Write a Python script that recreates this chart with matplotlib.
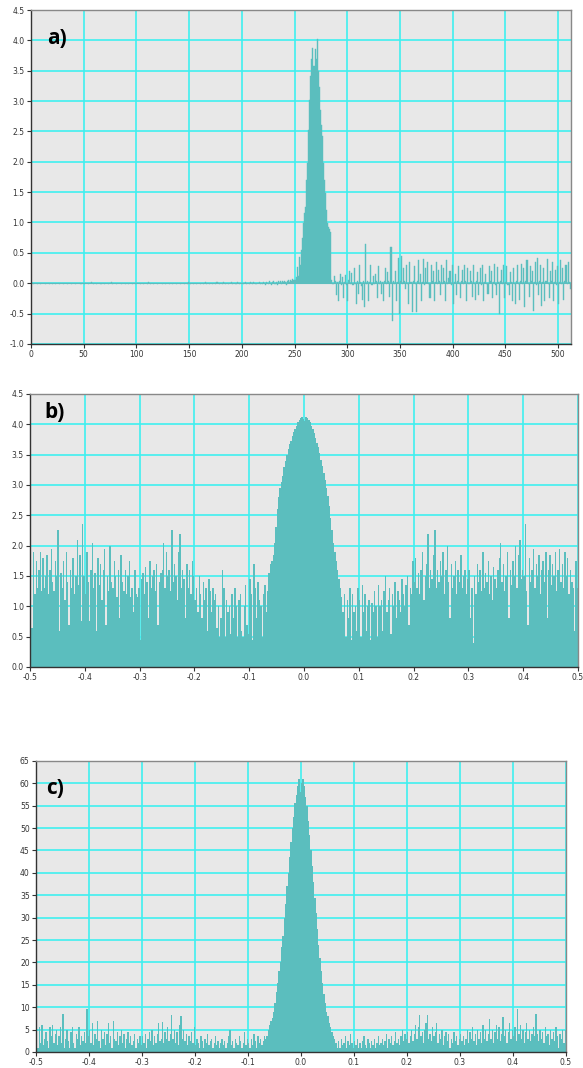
import numpy as np
import matplotlib
matplotlib.use("Agg")
from matplotlib import pyplot as plt

# ---- panel a: time signal, 512 samples ----
a_quiet = [
    0.0, 0.01, -0.01, 0.0, 0.01, 0.0, -0.01, 0.01, 0.0, -0.01, 0.0, 0.01, 0.0, -0.01, 0.01, 0.0, 0.0, -0.01, 0.01, 0.0,
    -0.01, 0.0, 0.01, -0.02, 0.0, 0.01, 0.0, -0.01, 0.0, 0.01, -0.01, 0.0, 0.01, 0.0, -0.01, 0.0, 0.01, 0.0, -0.01, 0.0,
    0.01, 0.0, -0.01, 0.0, 0.01, 0.0, 0.0, -0.01, 0.01, 0.0, -0.02, 0.0, 0.01, 0.0, -0.01, 0.01, 0.0, 0.02, 0.0, -0.01,
    0.0, 0.01, -0.01, 0.0, 0.01, 0.0, -0.01, 0.0, 0.01, -0.01, 0.0, 0.01, 0.0, -0.01, 0.0, 0.01, 0.02, -0.01, 0.0, 0.01,
    0.0, -0.01, 0.0, 0.01, 0.0, -0.01, 0.01, 0.0, 0.0, -0.01, 0.01, 0.0, -0.01, 0.0, 0.01, 0.0, -0.01, 0.01, 0.0, -0.01,
    0.0, 0.01, 0.0, -0.01, 0.01, 0.0, -0.01, 0.0, 0.01, 0.0, -0.01, 0.02, 0.0, -0.01, 0.01, 0.0, -0.01, 0.0, 0.01, 0.0,
    -0.01, 0.0, 0.01, 0.0, -0.01, 0.01, 0.0, -0.01, 0.0, 0.01, 0.0, -0.02, 0.01, 0.0, -0.01, 0.0, 0.01, 0.0, -0.01, 0.01,
    0.0, -0.01, 0.0, 0.01, 0.0, -0.01, 0.01, 0.0, -0.01, 0.02, 0.0, -0.01, 0.01, 0.0, -0.01, 0.0, 0.01, -0.01, 0.0, 0.01,
    -0.01, 0.0, 0.01, -0.01, 0.0, 0.02, -0.01, 0.0, 0.01, -0.01, 0.0, 0.01, -0.02, 0.0, 0.01, -0.01, 0.02, 0.0, -0.01, 0.01,
    0.0, -0.01, 0.02, 0.0, -0.01, 0.01, 0.0, -0.02, 0.01, 0.0, 0.02, -0.01, 0.0, 0.01, -0.01, 0.02, 0.0, -0.01, 0.01, 0.0,
    0.01, -0.02, 0.0, 0.02, -0.01, 0.01, 0.0, -0.02, 0.02, 0.0, -0.01, 0.02, 0.0, -0.02, 0.01, 0.0, 0.02, -0.01, 0.01, -0.02,
    0.02, 0.0, -0.03, 0.02, 0.01, -0.02, 0.03, 0.0, -0.03, 0.02, 0.04, -0.01, 0.02, -0.03, 0.03, 0.01, 0.04, -0.02, 0.03, 0.02,
]
a_peak = [
    0.03, 0.02, -0.03, 0.04, 0.05, 0.02, 0.06, 0.03, 0.07, 0.05, 0.06, 0.1, 0.27, 0.12, 0.43,
    0.3, 0.55, 0.75, 0.99, 1.15, 1.26, 1.7, 1.98, 2.53, 3.02, 3.41, 3.7, 3.88, 3.58, 3.85,
    3.7, 4.02, 3.5, 3.24, 2.86, 2.6, 2.42, 1.98, 1.7, 1.48, 1.2, 0.99, 0.93, 0.9, 0.85,
]
a_tail = [
    0.05, -0.02, 0.12, 0.03, -0.2, 0.02, -0.3, 0.04, 0.15, -0.03, 0.1, -0.25, 0.02, 0.14, -0.03, -0.3, 0.05, 0.2, -0.02, 0.16,
    -0.03, 0.25, -0.02, -0.35, 0.04, -0.18, 0.3, 0.02, -0.04, -0.28, 0.03, -0.4, 0.65, -0.02, 0.04, -0.3, 0.02, 0.3, -0.03, 0.12,
    -0.02, 0.15, 0.03, -0.25, 0.28, -0.02, 0.04, -0.18, 0.02, -0.3, 0.03, 0.25, -0.02, 0.18, 0.03, -0.22, 0.6, -0.62, 0.03, -0.02,
    0.2, -0.3, 0.02, 0.42, -0.5, 0.03, 0.45, -0.02, 0.25, 0.03, -0.1, 0.3, -0.02, -0.35, 0.35, 0.02, -0.48, 0.04, 0.28, -0.02,
    -0.48, 0.03, 0.38, -0.02, 0.15, -0.3, 0.02, 0.4, -0.03, 0.25, 0.02, 0.35, -0.02, -0.25, 0.3, 0.03, 0.2, -0.3, 0.02, 0.35,
    -0.02, 0.22, 0.03, -0.2, 0.3, -0.02, 0.25, 0.03, -0.3, 0.38, -0.02, 0.08, 0.2, -0.03, 0.3, -0.35, 0.02, 0.15, -0.2, 0.03,
    0.28, -0.02, -0.25, 0.03, 0.22, -0.02, 0.3, 0.03, -0.3, 0.25, -0.02, 0.2, 0.03, -0.22, 0.3, -0.02, -0.28, 0.03, 0.18, -0.2,
    0.02, 0.25, -0.03, 0.3, -0.3, 0.02, 0.15, -0.02, -0.18, 0.28, 0.03, 0.2, -0.25, 0.02, 0.32, -0.03, -0.2, 0.26, 0.02, -0.5,
    0.03, 0.22, -0.02, 0.3, -0.25, 0.02, 0.28, -0.03, -0.2, 0.18, 0.02, -0.3, 0.25, -0.02, -0.35, 0.03, 0.3, -0.02, -0.28, 0.03,
    0.32, -0.02, 0.25, -0.4, 0.03, 0.38, -0.02, -0.22, 0.28, 0.03, 0.2, -0.45, 0.02, 0.35, -0.03, 0.42, -0.2, 0.03, 0.3, -0.38,
    0.02, 0.25, -0.3, 0.03, 0.4, -0.02, -0.25, 0.2, 0.03, 0.35, -0.3, 0.02, 0.22, -0.03, 0.28, -0.35, 0.02, 0.38, -0.02, 0.25,
    -0.28, 0.03, 0.3, -0.02, 0.35, 0.02, -0.1,
]

# ---- panel b: spectrum, -0.5..0.5 ----
b_left = [
    1.7, 0.65, 1.9, 1.2, 1.75, 1.3, 1.6, 1.9, 1.25, 1.8, 1.3, 1.5, 1.85, 1.2, 1.6, 1.95, 1.4, 1.25, 1.75, 1.5,
    2.25, 0.6, 1.55, 1.3, 1.75, 1.1, 1.9, 1.4, 0.7, 1.6, 1.3, 1.8, 1.2, 1.5, 2.1, 1.35, 1.85, 0.75, 2.35, 1.5,
    1.2, 1.9, 1.4, 0.75, 1.6, 2.05, 1.3, 1.55, 0.6, 1.8, 1.35, 1.7, 1.1, 1.6, 1.95, 0.7, 1.5, 1.25, 2.0, 1.4,
    1.3, 1.75, 1.5, 1.15, 1.6, 0.8, 1.85, 1.4, 1.25, 1.6, 1.2, 1.5, 1.75, 1.15, 1.3, 0.9, 1.6, 1.2, 1.15, 1.3,
    0.45, 1.45, 1.55, 1.2, 1.65, 1.4, 0.8, 1.75, 1.3, 1.5, 1.6, 1.25, 1.7, 0.7, 1.4, 1.55, 1.6, 2.05, 1.3, 1.9,
    1.5, 1.6, 1.25, 2.25, 1.4, 1.7, 1.5, 1.1, 1.9, 2.2, 1.3, 1.6, 1.45, 0.8, 1.7, 1.3, 1.6, 1.2, 1.75, 1.5,
    1.1, 1.3, 0.9, 1.5, 1.2, 0.8, 1.4, 1.1, 1.3, 0.6, 1.45, 1.25, 0.9, 1.3, 1.1, 1.2, 0.65, 1.0, 0.5, 0.8,
    1.6, 1.3, 0.5, 1.1, 0.9, 1.0, 0.55, 1.2, 0.8, 1.3, 1.0, 0.5, 1.1, 1.2, 0.6, 0.5, 1.0, 1.35, 0.7, 0.55,
    1.45, 1.2, 0.45, 1.7, 1.3, 0.8, 1.4, 1.1, 1.0, 0.5, 1.2, 1.35, 0.9, 1.25,
]
b_peak = [
    1.55, 1.7, 1.75, 1.85, 2.05, 2.3, 2.6, 2.8, 2.95, 3.05, 3.15, 3.3, 3.4,
    3.5, 3.6, 3.67, 3.73, 3.8, 3.87, 3.93, 3.98, 4.03, 4.07, 4.11, 4.12, 4.08,
    4.06, 4.12, 4.11, 4.07, 4.03, 3.98, 3.92, 3.86, 3.78, 3.7, 3.62, 3.52, 3.42,
    3.32, 3.2, 3.08, 2.95, 2.82, 2.65, 2.45, 2.25, 2.05, 1.9, 1.75, 1.6, 1.45,
]
b_right = [
    1.3, 1.15, 0.9, 1.2, 0.5, 1.1, 0.8, 1.3, 0.45, 1.2, 0.9, 1.0, 0.6, 1.3,
    1.1, 0.5, 1.35, 0.9, 1.2, 0.6, 1.0, 1.1, 0.45, 1.05, 0.9, 1.25, 1.0, 0.5, 1.35, 1.0, 1.1, 0.6, 1.25, 1.5,
    0.9, 1.1, 1.3, 0.55, 1.2, 1.0, 1.4, 0.8, 1.25, 1.1, 0.9, 1.45, 1.2, 1.0, 1.35, 1.5, 0.7, 1.3, 1.2, 1.75,
    1.4, 1.8, 1.3, 1.55, 1.2, 1.6, 1.9, 1.1, 1.5, 1.7, 2.2, 1.3, 1.6, 1.45, 1.85, 2.25, 1.3, 1.6, 1.4, 1.75,
    1.5, 1.9, 1.2, 1.6, 2.0, 1.4, 0.8, 1.7, 1.3, 1.5, 1.75, 1.2, 1.6, 1.4, 1.85, 1.3, 1.5, 1.6, 1.2, 1.45,
    1.6, 0.8, 1.3, 0.4, 1.5, 1.2, 1.7, 1.4, 1.6, 1.25, 1.9, 1.3, 1.55, 1.4, 1.75, 1.2, 1.5, 1.1, 1.65, 1.45,
    1.3, 1.6, 1.8, 2.05, 1.4, 1.7, 1.25, 1.5, 1.9, 0.8, 1.6, 1.35, 1.75, 1.5, 2.0, 1.3, 1.85, 2.1, 1.45, 1.6,
    1.5, 2.35, 1.25, 0.7, 1.8, 1.4, 1.6, 1.95, 1.3, 1.7, 1.5, 1.85, 1.2, 1.6, 1.75, 1.4, 1.9, 0.8, 1.6, 1.85,
    1.35, 1.7, 1.5, 1.9, 1.25, 1.6, 1.95, 1.4, 1.7, 1.3, 1.9, 1.5, 1.8, 1.2, 1.6, 1.4, 1.3, 0.6, 1.75, 1.3,
]

# ---- panel c: spectrum, -0.5..0.5 ----
c_left = [
    2.5, 1.0, 5.5, 2.0, 6.0, 1.5, 3.0, 4.5, 2.5, 0.8, 5.5, 3.5, 6.0, 2.0, 4.0, 5.0, 1.5, 3.5, 5.5, 2.0,
    8.5, 1.0, 3.0, 5.0, 2.5, 1.0, 4.5, 5.5, 2.0, 0.8, 4.0, 3.0, 5.5, 1.5, 3.5, 2.5, 4.5, 2.0, 9.5, 3.5,
    5.0, 2.0, 6.5, 1.5, 4.0, 3.0, 7.0, 2.5, 0.8, 5.0, 3.0, 4.5, 1.5, 4.0, 6.5, 2.0, 3.5, 1.0, 7.0, 3.0,
    2.5, 4.5, 1.5, 3.5, 5.0, 2.0, 4.0, 1.0, 3.0, 4.5, 2.0, 3.5, 1.5, 2.5, 4.0, 0.8, 3.0, 2.0, 3.5, 1.5,
    3.5, 2.0, 4.0, 1.0, 3.0, 4.5, 2.5, 5.0, 1.5, 3.5, 2.0, 4.0, 6.5, 2.5, 3.0, 6.8, 2.0, 4.5, 3.0, 5.5,
    2.5, 4.0, 8.3, 3.0, 5.0, 2.0, 4.5, 1.5, 6.0, 8.0, 3.0, 5.0, 2.5, 4.0, 1.5, 3.5, 2.5, 4.5, 2.0, 5.5,
    1.5, 3.0, 2.0, 1.0, 3.5, 2.5, 0.8, 3.0, 2.0, 4.0, 1.5, 2.5, 3.0, 1.0, 2.0, 3.5, 1.5, 2.5, 0.8, 2.0,
    3.0, 1.5, 2.5, 1.0, 2.0, 3.5, 4.8, 1.5, 2.5, 1.0, 3.0, 2.0, 1.5, 3.5, 2.5, 1.0, 2.0, 4.5, 1.5, 3.0,
    2.0, 1.0, 3.0, 1.5, 4.0, 2.5, 1.0, 3.5, 2.0, 3.0, 1.5, 2.5, 3.5, 3.0,
]
c_peak = [
    3.5, 5.0, 6.0, 7.0, 7.5, 9.0, 11.0, 13.5, 15.5, 18.0, 20.0, 23.5, 26.0,
    30.0, 33.0, 37.0, 40.0, 43.5, 47.0, 50.0, 52.5, 55.5, 57.5, 59.5, 61.0, 58.0,
    60.0, 61.0, 59.5, 57.0, 55.0, 51.5, 48.5, 45.0, 41.5, 38.0, 34.5, 31.0, 27.5,
    24.0, 21.0, 18.0, 15.5, 13.0, 11.0, 9.0, 8.0, 6.5, 5.5, 4.5, 3.5, 3.0,
]
c_right = [
    2.0, 1.0, 2.5, 0.8, 3.0, 1.5, 2.0, 3.5, 1.0, 2.5, 1.5, 4.0, 2.0, 1.0,
    2.5, 1.5, 3.0, 0.8, 2.0, 1.0, 2.5, 3.5, 1.5, 1.0, 3.0, 2.0, 0.8, 2.5, 1.5, 3.0, 1.0, 2.0, 3.5, 1.5,
    2.0, 3.0, 1.5, 2.5, 4.0, 1.0, 3.0, 2.0, 3.5, 1.5, 2.5, 4.5, 2.0, 3.0, 1.5, 3.5, 5.0, 2.5, 4.0, 3.0,
    4.5, 2.0, 3.5, 5.0, 2.5, 4.0, 6.0, 3.0, 5.5, 8.3, 3.5, 4.5, 2.0, 5.0, 6.5, 8.3, 3.0, 4.0, 2.5, 5.5,
    3.5, 4.5, 6.5, 2.0, 4.0, 3.0, 5.0, 1.5, 3.5, 4.5, 2.5, 4.0, 1.0, 3.0, 2.0, 4.5, 2.5, 3.5, 1.5, 3.0,
    4.0, 2.5, 3.5, 1.5, 3.0, 5.0, 2.0, 4.5, 3.0, 5.5, 2.5, 4.0, 1.5, 5.0, 3.0, 4.5, 2.0, 6.0, 3.0, 5.0,
    2.5, 4.0, 7.3, 3.0, 5.0, 2.0, 4.5, 6.0, 3.0, 5.5, 2.5, 4.0, 7.8, 3.5, 5.0, 2.0, 4.5, 6.5, 3.0, 5.0,
    3.5, 5.5, 2.5, 9.5, 4.0, 6.0, 3.0, 5.0, 2.0, 4.5, 6.5, 3.0, 5.0, 2.5, 4.0, 5.5, 3.5, 8.5, 4.0, 2.5,
    5.0, 3.0, 4.5, 2.0, 5.5, 3.5, 4.0, 1.5, 5.0, 3.0, 4.5, 2.5, 5.5, 3.5, 1.0, 4.0, 3.0, 5.0, 2.0, 5.0,
]

a_vals = np.array(a_quiet + a_peak + a_tail)
b_vals = np.array(b_left + b_peak + b_right)
c_vals = np.array(c_left + c_peak + c_right)

bar_col = '#5bbebe'
grid_col = '#3ff0f0'
bg_col = '#e8e8e8'


def style(ax, xticks, yticks, xfmt, yfmt):
    ax.set_facecolor(bg_col)
    ax.set_xticks(xticks)
    ax.set_yticks(yticks)
    ax.set_xticklabels([xfmt % v for v in xticks])
    ax.set_yticklabels([yfmt % v for v in yticks])
    ax.grid(True, color=grid_col, lw=1.2)
    ax.set_axisbelow(True)
    ax.tick_params(labelsize=5.5, length=3, width=0.8, colors='#333333', pad=1.5)
    for s in ['left', 'bottom']:
        ax.spines[s].set_color('#333333')
        ax.spines[s].set_linewidth(1.0)
    for s in ['top', 'right']:
        ax.spines[s].set_color('#888888')
        ax.spines[s].set_linewidth(1.0)


fig = plt.figure(figsize=(5.83, 10.68), dpi=100)

# a)
ax1 = fig.add_axes([0.053, 0.678, 0.926, 0.3126])
xa = np.arange(len(a_vals))
ax1.bar(xa, a_vals, width=1.0, align='edge', color=bar_col, edgecolor=bar_col, lw=0.3)
ax1.axhline(0, color=bar_col, lw=0.8)
ax1.set_xlim(0, 512)
ax1.set_ylim(-1.0, 4.5)
style(ax1, list(range(0, 501, 50)), [-1.0 + 0.5 * i for i in range(12)], '%d', '%.1f')
ax1.text(0.03, 0.915, 'a)', transform=ax1.transAxes, fontsize=15, fontweight='bold',
         family='Open Sans', va='center', ha='left')

# b)
ax2 = fig.add_axes([0.0515, 0.3755, 0.94, 0.2556])
edges_b = np.linspace(-0.5, 0.5, len(b_vals) + 1)
ax2.bar(edges_b[:-1], b_vals, width=np.diff(edges_b), align='edge', color=bar_col, lw=0)
ax2.set_xlim(-0.5, 0.5)
ax2.set_ylim(0, 4.5)
style(ax2, [-0.5 + 0.1 * i for i in range(11)], [0.5 * i for i in range(10)], '%.1f', '%.1f')
ax2.text(0.026, 0.934, 'b)', transform=ax2.transAxes, fontsize=15, fontweight='bold',
         family='Open Sans', va='center', ha='left')

# c)
ax3 = fig.add_axes([0.0617, 0.015, 0.909, 0.2725])
edges_c = np.linspace(-0.5, 0.5, len(c_vals) + 1)
ax3.bar(edges_c[:-1], c_vals, width=np.diff(edges_c), align='edge', color=bar_col, lw=0)
ax3.set_xlim(-0.5, 0.5)
ax3.set_ylim(0, 65)
style(ax3, [-0.5 + 0.1 * i for i in range(11)], list(range(0, 66, 5)), '%.1f', '%d')
ax3.text(0.02, 0.907, 'c)', transform=ax3.transAxes, fontsize=15, fontweight='bold',
         family='Open Sans', va='center', ha='left')

plt.savefig('out.png', dpi=100)
